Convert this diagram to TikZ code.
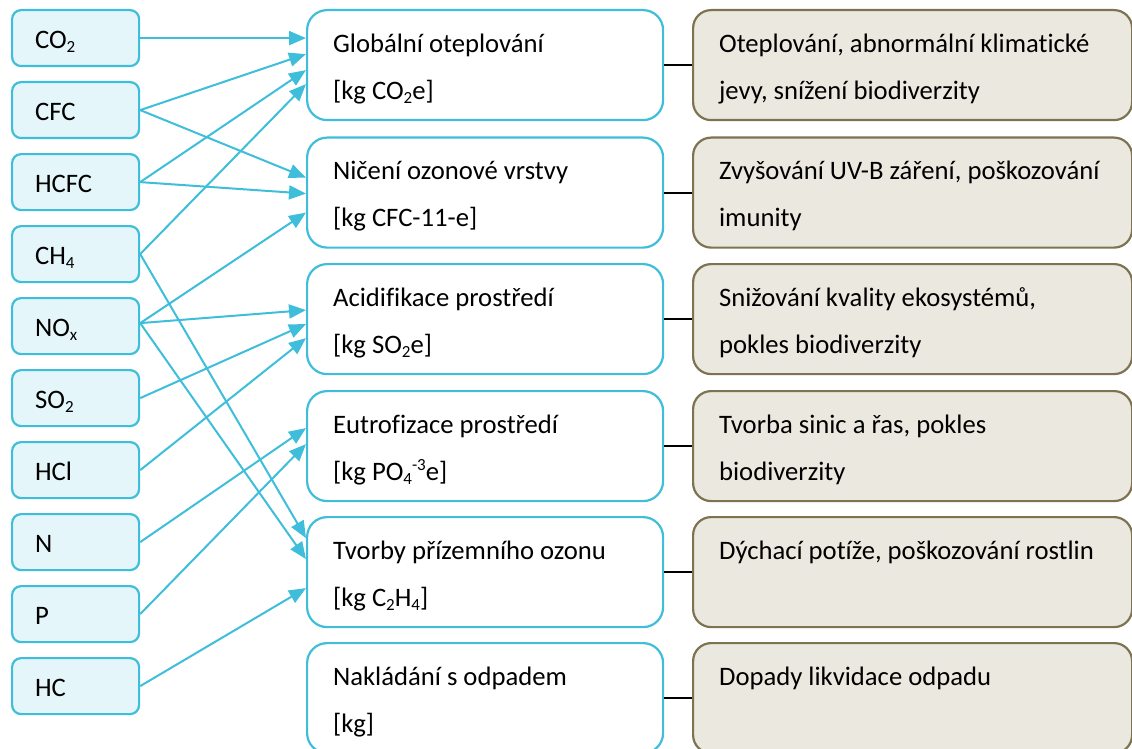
\documentclass[tikz,border=0pt]{standalone}
\usepackage{fontspec}
\setmainfont{Carlito}[Ligatures=NoCommon]
\usetikzlibrary{arrows.meta}
\definecolor{cy}{RGB}{62,190,218}
\definecolor{cyfill}{RGB}{228,246,250}
\definecolor{bgr}{RGB}{235,232,223}
\definecolor{olv}{RGB}{125,115,80}
\newcommand\sbs[1]{\raisebox{-4.5pt}{\fontsize{17pt}{17pt}\selectfont #1}}
\newcommand\sps[1]{\raisebox{10pt}{\fontsize{17pt}{17pt}\selectfont #1}}
\newcommand\bx[5]{\parbox[b][#2][t]{#1}{\leftskip=#3\rule{0pt}{#4}#5}}
\newcommand\lft[1]{\bx{127pt}{56pt}{23pt}{38pt}{#1}}
\newcommand\mdl[2]{\bx{356pt}{110pt}{26pt}{42pt}{\mbox{#1}\par\mbox{#2}}}
\newcommand\rgt[2]{\bx{439pt}{110pt}{26pt}{42pt}{\mbox{#1}\par\mbox{#2}}}
\tikzset{
  every node/.style={font=\fontsize{26.67pt}{47pt}\selectfont, inner sep=0pt, anchor=north west},
  src/.style={draw=cy, fill=cyfill, line width=2.2pt, rounded corners=9pt},
  mid/.style={draw=cy, fill=white, line width=2.2pt, rounded corners=20pt},
  eff/.style={draw=olv, fill=bgr, line width=2.2pt, rounded corners=18pt},
  arr/.style={draw=cy, line width=2pt, -{Triangle[length=17pt,width=14pt]}},
  lnk/.style={draw=black, line width=1.8pt}
}
\begin{document}
\begin{tikzpicture}[x=1pt,y=-1pt]
\path[use as bounding box, clip] (0,0) rectangle (1132,749);
% sources
\node[src] (co2)  at (11,9)   {\lft{CO\sbs{2}}};
\node[src] (cfc)  at (11,81)  {\lft{CFC}};
\node[src] (hcfc) at (11,153) {\lft{HCFC}};
\node[src] (ch4)  at (11,225) {\lft{CH\sbs{4}}};
\node[src] (nox)  at (11,297) {\lft{NO\sbs{x}}};
\node[src] (so2)  at (11,369) {\lft{SO\sbs{2}}};
\node[src] (hcl)  at (11,441) {\lft{HCl}};
\node[src] (n)    at (11,513) {\lft{N}};
\node[src] (p)    at (11,585) {\lft{P}};
\node[src] (hc)   at (11,657) {\lft{HC}};
% categories
\node[mid] (glob) at (306,9)     {\mdl{Globální oteplování}{[kg CO\sbs{2}e]}};
\node[mid] (nic)  at (306,136.5) {\mdl{Ničení ozonové vrstvy}{[kg CFC-11-e]}};
\node[mid] (acid) at (306,263)   {\mdl{Acidifikace prostředí}{[kg SO\sbs{2}e]}};
\node[mid] (eut)  at (306,390)   {\mdl{Eutrofizace prostředí}{[kg PO\sbs{4}\sps{-3}e]}};
\node[mid] (tvo)  at (306,516)   {\mdl{Tvorby přízemního ozonu}{[kg C\sbs{2}H\sbs{4}]}};
\node[mid] (nak)  at (306,642)   {\mdl{Nakládání s odpadem}{[kg]}};
% effects
\node[eff] (globr) at (692,9)     {\rgt{Oteplování, abnormální klimatické}{jevy, snížení biodiverzity}};
\node[eff] (nicr)  at (692,136.5) {\rgt{Zvyšování UV-B záření, poškozování}{imunity}};
\node[eff] (acidr) at (692,263)   {\rgt{Snižování kvality ekosystémů,}{pokles biodiverzity}};
\node[eff] (eutr)  at (692,390)   {\rgt{Tvorba sinic a řas, pokles}{biodiverzity}};
\node[eff] (tvor)  at (692,516)   {\rgt{Dýchací potíže, poškozování rostlin}{}};
\node[eff] (nakr)  at (692,642)   {\rgt{Dopady likvidace odpadu}{}};
% links
\foreach \a/\b in {glob/globr,nic/nicr,acid/acidr,eut/eutr,tvo/tvor,nak/nakr}
  \draw[lnk] (\a.east) -- (\b.west);
% arrows
\draw[arr] (co2.east)  -- ([yshift=27pt]glob.west);
\draw[arr] (cfc.east)  -- ([yshift=11pt]glob.west);
\draw[arr] (hcfc.east) -- ([yshift=-5pt]glob.west);
\draw[arr] (ch4.east)  -- ([yshift=-19pt]glob.west);
\draw[arr] (cfc.east)  -- ([yshift=15pt]nic.west);
\draw[arr] (hcfc.east) -- ([yshift=-1pt]nic.west);
\draw[arr] ([yshift=3pt]nox.east) -- ([yshift=-20pt]nic.west);
\draw[arr] ([yshift=3pt]nox.east) -- ([yshift=9pt]acid.west);
\draw[arr] (so2.east)  -- ([yshift=-5pt]acid.west);
\draw[arr] (hcl.east)  -- ([yshift=-19pt]acid.west);
\draw[arr] (n.east)    -- ([yshift=18pt]eut.west);
\draw[arr] (p.east)    -- ([yshift=2pt]eut.west);
\draw[arr] (ch4.east)  -- ([yshift=34pt]tvo.west);
\draw[arr] ([yshift=3pt]nox.east) -- ([yshift=13pt]tvo.west);
\draw[arr] (hc.east)   -- ([yshift=-16pt]tvo.west);
\end{tikzpicture}
\end{document}
